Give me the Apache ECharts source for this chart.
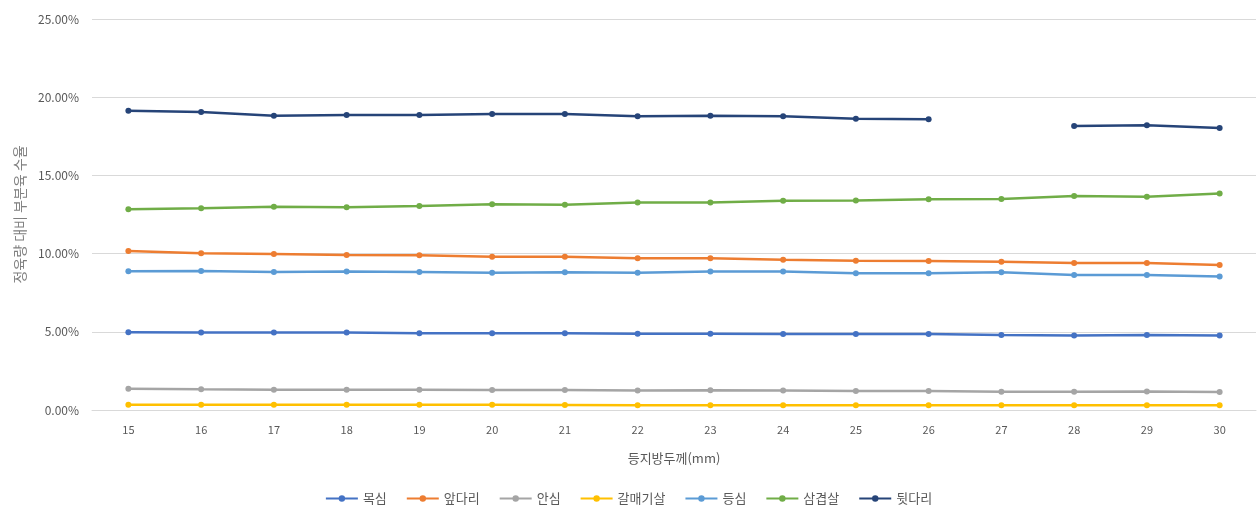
<!DOCTYPE html>
<html>
<head>
<meta charset="utf-8">
<script src="https://cdn.jsdelivr.net/npm/echarts@6/dist/echarts.min.js"></script>
<style>
  html, body { margin: 0; padding: 0; background: #fff; }
  #chart { width: 1257px; height: 506px; }
</style>
</head>
<body>
<div id="chart"></div>
<script>
// 등지방두께(mm) 구간
const thickness = ['15','16','17','18','19','20','21','22','23','24','25','26','27','28','29','30'];

// 부위별 수율 (%)
const moksim   = [4.97, 4.95, 4.95, 4.95, 4.90, 4.90, 4.90, 4.88, 4.88, 4.86, 4.86, 4.86, 4.80, 4.77, 4.80, 4.77];
const apdari   = [10.17, 10.02, 9.97, 9.91, 9.89, 9.80, 9.80, 9.70, 9.70, 9.61, 9.55, 9.53, 9.48, 9.40, 9.40, 9.27];
const ansim    = [1.36, 1.32, 1.30, 1.30, 1.30, 1.28, 1.28, 1.24, 1.26, 1.24, 1.21, 1.21, 1.17, 1.17, 1.19, 1.15];
const galmaegi = [0.34, 0.34, 0.33, 0.33, 0.33, 0.33, 0.32, 0.30, 0.30, 0.30, 0.30, 0.30, 0.30, 0.30, 0.30, 0.30];
const deungsim = [8.87, 8.89, 8.82, 8.85, 8.82, 8.78, 8.80, 8.78, 8.85, 8.85, 8.74, 8.74, 8.80, 8.63, 8.63, 8.53];
const samgyeop = [12.83, 12.90, 13.00, 12.96, 13.04, 13.15, 13.13, 13.26, 13.26, 13.38, 13.40, 13.47, 13.49, 13.68, 13.64, 13.85];
const dwitdari = [19.14, 19.05, 18.82, 18.86, 18.86, 18.93, 18.93, 18.78, 18.82, 18.78, 18.63, 18.59, null, 18.16, 18.20, 18.03];

const yTicks = [0, 5, 10, 15, 20, 25];

const seriesDefs = [
  ['목심', moksim, '#4472C4'],
  ['앞다리', apdari, '#ED7D31'],
  ['안심', ansim, '#A5A5A5'],
  ['갈매기살', galmaegi, '#FFC000'],
  ['등심', deungsim, '#5B9BD5'],
  ['삼겹살', samgyeop, '#70AD47'],
  ['뒷다리', dwitdari, '#264478']
];

const font = '"Noto Sans CJK KR", "Noto Sans", sans-serif';
const chart = echarts.init(document.getElementById('chart'), null, { renderer: 'canvas' });

chart.setOption({
  animation: false,
  textStyle: { fontFamily: font },
  color: seriesDefs.map(s => s[2]),
  grid: { left: 92, right: 1, top: 19, bottom: 96 },
  legend: {
    top: 487,
    left: 'center',
    itemWidth: 32,
    itemHeight: 8,
    itemGap: 19,
    textStyle: { color: '#595959', fontSize: 13, fontFamily: font },
    data: seriesDefs.map(s => s[0])
  },
  xAxis: {
    type: 'category',
    data: thickness,
    boundaryGap: true,
    name: '등지방두께(mm)',
    nameLocation: 'middle',
    nameGap: 42,
    nameTextStyle: { color: '#595959', fontSize: 13, fontFamily: font },
    axisLine: { show: true, lineStyle: { color: '#D9D9D9' } },
    axisTick: { show: false },
    axisLabel: { color: '#595959', fontSize: 11, margin: 14 }
  },
  yAxis: {
    type: 'value',
    min: yTicks[0],
    max: yTicks[yTicks.length - 1],
    interval: 5,
    name: '정육량 대비 부분육 수율',
    nameLocation: 'middle',
    nameGap: 64,
    nameRotate: 90,
    nameTextStyle: { color: '#7F7F7F', fontSize: 14, fontFamily: font },
    axisLine: { show: false },
    axisTick: { show: false },
    splitLine: { lineStyle: { color: '#D9D9D9', width: 1 } },
    axisLabel: {
      color: '#595959',
      fontSize: 12,
      margin: 13,
      formatter: v => v.toFixed(2) + '%'
    }
  },
  series: seriesDefs.map(([name, data, color]) => ({
    name,
    type: 'line',
    data,
    connectNulls: false,
    symbol: 'circle',
    symbolSize: 6,
    lineStyle: { width: 2.5, color },
    itemStyle: { color },
    emphasis: { disabled: true }
  }))
});
</script>
</body>
</html>
